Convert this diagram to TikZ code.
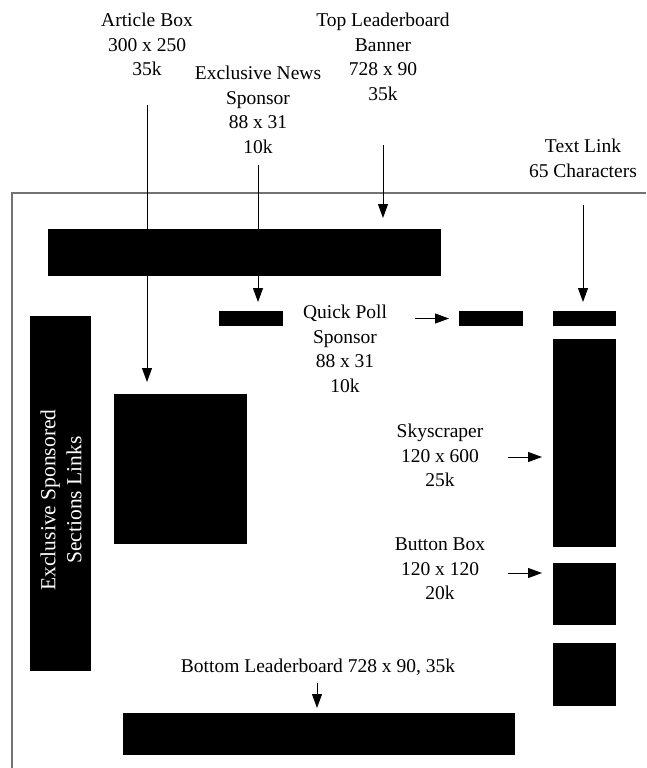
\documentclass[tikz,border=0pt]{standalone}
\usepackage{fontspec}
\setmainfont{Liberation Serif}
\usetikzlibrary{arrows.meta}
\begin{document}
\begin{tikzpicture}[x=1pt,y=-1pt,
  adbox/.style={fill=black, draw=none, inner sep=0pt, outer sep=0pt, anchor=north west},
  lbl/.style={align=center, inner sep=0pt, font=\fontsize{19.5}{24.5}\selectfont, anchor=north},
  pointer/.style={line width=1pt, -{Triangle[length=14pt,width=10pt]}},
  frameline/.style={draw=black!55, line width=1.6pt}]
\useasboundingbox (0,0) rectangle (646,768);
% page frame
\draw[frameline] (12,768) -- (12,193) -- (646,193);
% ad boxes
\node[adbox, minimum width=393pt, minimum height=47pt] (topbanner) at (48,229) {};
\node[adbox, minimum width=64pt, minimum height=15pt] (newsbox) at (219,311) {};
\node[adbox, minimum width=64pt, minimum height=15pt] (pollbox) at (459,311) {};
\node[adbox, minimum width=63pt, minimum height=15pt] (linkbox) at (553,311) {};
\node[adbox, minimum width=63pt, minimum height=208pt] (sky) at (553,339) {};
\node[adbox, minimum width=63pt, minimum height=62pt] (button) at (553,563) {};
\node[adbox, minimum width=63pt, minimum height=63pt] (button2) at (553,643) {};
\node[adbox, minimum width=61pt, minimum height=355pt] (leftbox) at (30,316) {};
\node[adbox, minimum width=133pt, minimum height=150pt] (artbox) at (114,394) {};
\node[adbox, minimum width=392pt, minimum height=42pt] (bottombanner) at (123,713) {};
\node[rotate=90, text=white, align=center, inner sep=0pt, font=\fontsize{21.5}{26}\selectfont] (lefttext) at (61,500) {Exclusive Sponsored\\Sections Links};
% labels
\node[lbl] (artlbl) at (147,13) {Article Box\\300 x 250\\35k};
\node[lbl] (toplbl) at (383,13) {Top Leaderboard\\Banner\\728 x 90\\35k};
\node[lbl] (newslbl) at (258,66) {Exclusive News\\Sponsor\\88 x 31\\10k};
\node[lbl] (linklbl) at (583,139) {Text Link\\65 Characters};
\node[lbl] (polllbl) at (345,305) {Quick Poll\\Sponsor\\88 x 31\\10k};
\node[lbl] (skylbl) at (440,424) {Skyscraper\\120 x 600\\25k};
\node[lbl] (buttonlbl) at (440,538) {Button Box\\120 x 120\\20k};
\node[lbl] (bottomlbl) at (318,659) {Bottom Leaderboard 728 x 90, 35k};
% connector start points
\coordinate (artS) at (147,105);
\coordinate (topS) at (383,145);
\coordinate (newsS) at (258,165);
\coordinate (linkS) at (583,205);
\coordinate (pollS) at (415,318.5);
\coordinate (skyS) at (508,457);
\coordinate (buttonS) at (508,573);
\coordinate (bottomS) at (317,683);
% connectors
\draw[pointer, shorten >=12pt] (artS) -- (artS |- artbox.north);
\draw[pointer, shorten >=11pt] (topS) -- (topS |- topbanner.north);
\draw[pointer, shorten >=9pt] (newsS) -- (newsS |- newsbox.north);
\draw[pointer, shorten >=9pt] (linkS) -- (linkS |- linkbox.north);
\draw[pointer, shorten >=10pt] (pollS) -- (pollbox.west);
\draw[pointer, shorten >=11pt] (skyS) -- (skyS -| sky.west);
\draw[pointer, shorten >=11pt] (buttonS) -- (buttonS -| button.west);
\draw[pointer, shorten >=5pt] (bottomS) -- (bottomS |- bottombanner.north);
\end{tikzpicture}
\end{document}
